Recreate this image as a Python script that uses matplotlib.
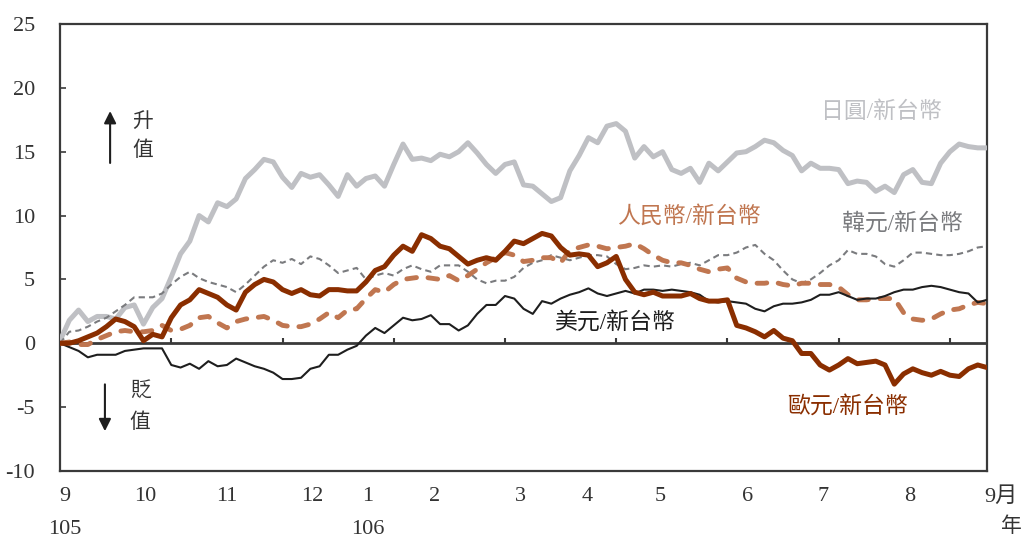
import numpy as np
import matplotlib
matplotlib.use('Agg')
import matplotlib.pyplot as plt
from matplotlib.transforms import blended_transform_factory

plt.rcParams['font.family'] = ['Liberation Serif', 'Noto Sans CJK TC']
plt.rcParams['axes.unicode_minus'] = False

# trading days from 105/9 to 106/9, sampled every 2.5 days
days = np.linspace(0, 250, 101)

jpy = [0.2, 1.8, 2.6, 1.7, 2.1, 2.1, 1.9, 2.8, 3.0, 1.5,
       2.8, 3.5, 5.2, 7.0, 8.0, 10.0, 9.5, 11.0, 10.7, 11.3,
       12.9, 13.6, 14.4, 14.2, 13.0, 12.2, 13.3, 13.0, 13.2, 12.4,
       11.5, 13.2, 12.3, 12.9, 13.1, 12.3, 14.0, 15.6, 14.4, 14.5,
       14.3, 14.8, 14.6, 15.0, 15.7, 14.9, 14.0, 13.3, 14.0, 14.2,
       12.4, 12.3, 11.7, 11.1, 11.4, 13.5, 14.7, 16.1, 15.7, 17.0,
       17.2, 16.6, 14.5, 15.4, 14.6, 15.0, 13.6, 13.3, 13.7, 12.6,
       14.1, 13.5, 14.2, 14.9, 15.0, 15.4, 15.9, 15.7, 15.1, 14.7,
       13.5, 14.1, 13.7, 13.7, 13.6, 12.5, 12.7, 12.6, 11.9, 12.3,
       11.8, 13.2, 13.6, 12.6, 12.5, 14.1, 15.0, 15.6, 15.4, 15.3,
       15.3]

krw = [0.0, 0.9, 1.0, 1.3, 1.7, 2.0, 2.5, 3.0, 3.6, 3.6,
       3.6, 3.9, 4.6, 5.2, 5.6, 5.1, 4.8, 4.6, 4.4, 4.0,
       4.6, 5.3, 6.0, 6.5, 6.3, 6.6, 6.2, 6.8, 6.6, 6.1,
       5.5, 5.7, 5.9, 5.0, 5.3, 5.5, 5.3, 5.8, 6.1, 5.8,
       5.6, 6.1, 6.1, 6.1, 5.6, 5.0, 4.7, 4.9, 4.9, 5.2,
       5.9, 6.3, 6.5, 6.9, 6.7, 6.5, 6.7, 6.9, 6.9, 6.8,
       6.2, 5.8, 5.9, 6.1, 6.0, 6.1, 6.0, 6.2, 6.3, 6.1,
       6.5, 6.9, 6.9, 7.1, 7.5, 7.7, 7.0, 6.5, 5.7, 5.0,
       4.7, 5.0, 5.5, 6.1, 6.5, 7.3, 7.0, 7.0, 6.8, 6.2,
       6.0, 6.5, 7.1, 7.1, 7.0, 6.9, 6.9, 7.0, 7.2, 7.5,
       7.6]

cny = [0.0, 0.1, -0.1, -0.1, 0.3, 0.6, 0.9, 1.0, 0.9, 0.9,
       1.0, 1.4, 1.0, 1.1, 1.4, 2.0, 2.1, 1.6, 1.2, 1.7,
       1.9, 2.0, 2.1, 1.8, 1.4, 1.3, 1.3, 1.5, 1.9, 2.4,
       2.0, 2.6, 2.7, 3.5, 4.2, 4.0, 4.6, 5.0, 5.1, 5.2,
       5.1, 5.0, 5.3, 4.9, 5.3, 5.8, 6.3, 6.7, 7.1, 6.9,
       6.4, 6.5, 6.7, 6.7, 6.3, 7.3, 7.5, 7.7, 7.6, 7.4,
       7.5, 7.6, 7.8, 7.4, 6.9, 6.5, 6.3, 6.3, 6.1, 5.8,
       5.6, 5.8, 5.9, 5.1, 4.8, 4.7, 4.7, 4.8, 4.6, 4.5,
       4.7, 4.7, 4.6, 4.6, 4.4, 3.8, 3.4, 3.4, 3.5, 3.5,
       3.5, 2.4, 1.9, 1.8, 1.9, 2.3, 2.6, 2.7, 3.0, 3.2,
       3.1]

usd = [0.0, -0.3, -0.6, -1.1, -0.9, -0.9, -0.9, -0.6, -0.5, -0.4,
       -0.4, -0.4, -1.7, -1.9, -1.6, -2.0, -1.4, -1.8, -1.7, -1.2,
       -1.5, -1.8, -2.0, -2.3, -2.8, -2.8, -2.7, -2.0, -1.8, -0.9,
       -0.9, -0.5, -0.2, 0.6, 1.2, 0.8, 1.4, 2.0, 1.8, 1.9,
       2.2, 1.5, 1.5, 1.0, 1.4, 2.3, 3.0, 3.0, 3.7, 3.5,
       2.7, 2.3, 3.3, 3.1, 3.5, 3.8, 4.0, 4.3, 3.9, 3.7,
       3.9, 4.1, 3.9, 4.2, 4.2, 4.1, 4.2, 4.1, 4.0, 3.8,
       3.3, 3.2, 3.3, 3.2, 3.1, 2.7, 2.5, 2.9, 3.1, 3.1,
       3.2, 3.4, 3.8, 3.8, 4.0, 3.7, 3.4, 3.5, 3.5, 3.7,
       4.0, 4.2, 4.2, 4.4, 4.5, 4.4, 4.2, 4.0, 3.9, 3.2,
       3.4]

eur = [0.0, 0.0, 0.2, 0.5, 0.8, 1.3, 1.9, 1.7, 1.3, 0.2,
       0.7, 0.5, 2.0, 3.0, 3.4, 4.2, 3.9, 3.6, 3.0, 2.6,
       4.0, 4.6, 5.0, 4.8, 4.2, 3.9, 4.2, 3.8, 3.7, 4.2,
       4.2, 4.1, 4.1, 4.8, 5.7, 6.0, 6.9, 7.6, 7.2, 8.5,
       8.2, 7.6, 7.4, 6.8, 6.2, 6.5, 6.7, 6.5, 7.2, 8.0,
       7.8, 8.2, 8.6, 8.4, 7.5, 6.9, 7.0, 6.9, 6.0, 6.3,
       6.8, 5.0, 4.0, 3.8, 4.0, 3.7, 3.7, 3.7, 3.9, 3.5,
       3.3, 3.3, 3.4, 1.4, 1.2, 0.9, 0.5, 1.0, 0.4, 0.2,
       -0.8, -0.8, -1.7, -2.1, -1.7, -1.2, -1.6, -1.5, -1.4, -1.7,
       -3.2, -2.4, -2.0, -2.3, -2.5, -2.2, -2.5, -2.6, -2.0, -1.7,
       -1.9]

# first trading day of each month (day index)
month_labels = ['9', '10', '11', '12', '1', '2', '3', '4', '5', '6', '7', '8']
month_pos = [1.3, 22.9, 45.0, 68.0, 83.1, 101.1, 124.1, 142.1, 161.8, 185.3, 205.8, 229.2]
year_labels = ['105', '106']
year_pos = [1.3, 83.1]

c_jpy = '#bfc0c4'
c_krw = '#7a7b7e'
c_cny = '#c07650'
c_usd = '#1e1e1e'
c_eur = '#8a2e00'
c_axis = '#3a3a3a'

fig = plt.figure(figsize=(10.23, 5.40), dpi=100)
ax = fig.add_axes([0.0587, 0.1278, 0.9061, 0.8278])

ax.plot(days, jpy, color=c_jpy, lw=3.6, solid_joinstyle='round', zorder=3)
ax.plot(days, krw, color=c_krw, lw=1.5, dashes=(3, 2), zorder=4)
ax.plot(days, cny, color=c_cny, lw=3.5, dashes=(2.0, 2.4), dash_capstyle='round', zorder=4)
ax.plot(days, usd, color=c_usd, lw=1.5, zorder=5)
ax.plot(days, eur, color=c_eur, lw=3.6, solid_joinstyle='round', zorder=6)

ax.set_xlim(0, 250)
ax.set_ylim(-10, 25)

# zero line with tick marks every 30 trading days
ax.axhline(0, color=c_axis, lw=2.0, zorder=2)
ax.vlines(np.arange(30, 250, 30), 0, 0.4, color=c_axis, lw=1.5, zorder=2)

for s in ax.spines.values():
    s.set_color(c_axis)
    s.set_linewidth(1.6)

ax.set_yticks(np.arange(-10, 26, 5))
ax.tick_params(axis='y', direction='in', length=4, width=1.2, color=c_axis,
               labelsize=16, labelcolor='#333333', pad=18)
ax.set_xticks([])

trans = blended_transform_factory(ax.transData, ax.transAxes)
for lab, p in zip(month_labels, month_pos):
    ax.text(p, -0.058, lab, transform=trans, ha='center', va='center',
            fontsize=16, color='#333333')
ax.text(249.3, -0.058, '9月', transform=trans, ha='left', va='center',
        fontsize=16, color='#333333')
for lab, p in zip(year_labels, year_pos):
    ax.text(p, -0.132, lab, transform=trans, ha='center', va='center',
            fontsize=16, color='#333333')
fig.text(1011 / 1023, 1 - 527 / 540, '年', ha='center', va='center',
         fontsize=15, color='#333333', fontweight='light')

# series labels
lab_kw = dict(ha='center', va='center', fontsize=16.5, fontweight='light', zorder=7)
ax.text(221.4, 18.1, '日圓/新台幣', color=c_jpy, **lab_kw)
ax.text(227.3, 9.4, '韓元/新台幣', color=c_krw, **lab_kw)
ax.text(169.6, 9.9, '人民幣/新台幣', color=c_cny, **lab_kw)
ax.text(149.4, 1.6, '美元/新台幣', color=c_usd, **lab_kw)
ax.text(212.5, -5.0, '歐元/新台幣', color=c_eur, **lab_kw)

# appreciation / depreciation arrows
arr = dict(arrowstyle='-|>', color='#1e1e1e', lw=1.5, mutation_scale=18)
ax.annotate('', xy=(13.5, 18.4), xytext=(13.5, 13.9), arrowprops=arr)
ax.annotate('', xy=(12.1, -7.1), xytext=(12.1, -3.0), arrowprops=arr)
side_kw = dict(fontsize=15, ha='center', va='center', color='#333333', fontweight='light')
ax.text(22.4, 17.3, '升', **side_kw)
ax.text(22.4, 15.0, '值', **side_kw)
ax.text(21.6, -3.8, '貶', **side_kw)
ax.text(21.6, -6.3, '值', **side_kw)

fig.savefig('out.png', dpi=100)
